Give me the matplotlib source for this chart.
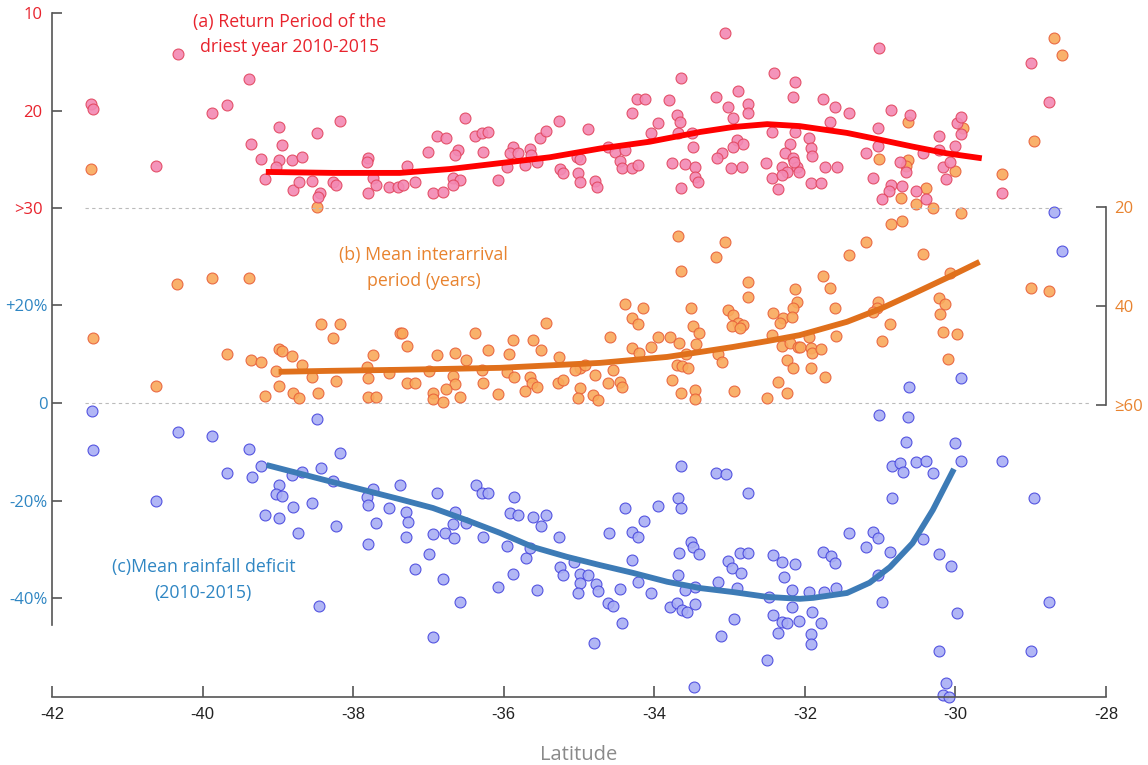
import matplotlib
matplotlib.use("Agg")
import matplotlib.pyplot as plt
import numpy as np

plt.rcParams['axes.unicode_minus'] = False

# (a) return period of the driest year 2010-2015: (latitude, years)
return_period = [
    (-41.48, 19.3), (-41.45, 19.8), (-40.33, 14.2), (-39.87, 20.3), (-39.68, 19.4), (-39.38, 16.8),
    (-40.62, 25.7), (-39.36, 23.4), (-39.22, 25.0), (-39.17, 27.0), (-38.98, 21.7), (-38.95, 23.5),
    (-38.98, 25.1), (-39.02, 25.8), (-38.81, 25.1), (-38.68, 24.8), (-38.80, 28.2), (-38.72, 27.3),
    (-38.48, 22.3), (-38.55, 27.2), (-38.44, 28.5), (-38.47, 28.9), (-38.18, 21.1), (-38.27, 27.3),
    (-38.23, 27.6), (-37.80, 24.9), (-37.82, 25.3), (-37.74, 26.9), (-37.69, 27.6), (-37.80, 28.5),
    (-37.52, 27.8), (-37.40, 27.8),
    (-33.06, 12.1), (-33.65, 16.7), (-32.41, 16.2), (-32.13, 17.1), (-32.16, 18.6), (-33.18, 18.6),
    (-32.89, 18.0), (-33.02, 19.6), (-32.96, 20.8), (-32.76, 19.3), (-32.76, 20.3), (-34.23, 18.8),
    (-34.12, 18.8), (-34.30, 20.3), (-33.81, 18.9), (-33.70, 20.5), (-33.66, 21.2), (-33.95, 21.3),
    (-34.05, 22.3), (-33.69, 22.3), (-33.50, 22.3), (-33.49, 23.7), (-32.44, 22.2), (-32.13, 22.2),
    (-32.20, 23.4), (-32.90, 23.0), (-32.82, 23.4), (-32.96, 23.7), (-33.10, 24.4), (-33.17, 24.9),
    (-32.84, 25.8), (-32.98, 25.9), (-33.77, 25.4), (-33.59, 25.5), (-33.46, 25.8), (-33.46, 26.8),
    (-33.42, 27.3), (-33.65, 27.9), (-32.52, 25.4), (-32.31, 25.8), (-32.24, 26.3), (-32.27, 24.4),
    (-32.16, 24.9), (-32.11, 25.8), (-32.44, 26.9), (-32.36, 28.1), (-32.31, 26.6), (-36.52, 20.8),
    (-36.89, 22.6), (-36.77, 22.8), (-37.00, 24.3), (-36.38, 22.6), (-36.29, 22.3), (-36.21, 22.2),
    (-36.61, 24.1), (-36.65, 24.6), (-36.28, 24.3), (-37.29, 25.7), (-37.34, 27.6), (-37.18, 27.3),
    (-36.94, 28.5), (-36.81, 28.4), (-36.67, 26.9), (-36.58, 27.1), (-36.67, 27.6), (-36.08, 27.1),
    (-35.96, 25.8), (-35.88, 23.7), (-35.92, 24.4), (-35.81, 24.4), (-35.65, 23.9), (-35.64, 24.6),
    (-35.72, 25.6), (-35.56, 25.3), (-35.52, 22.8), (-35.44, 22.1), (-35.27, 21.1), (-35.25, 26.0),
    (-35.21, 26.4), (-35.03, 24.8), (-34.99, 25.0), (-35.01, 26.4), (-34.99, 27.3), (-34.79, 27.2),
    (-34.76, 27.8), (-34.88, 21.9), (-34.62, 23.7), (-34.52, 24.3), (-34.39, 24.1), (-34.46, 25.2),
    (-34.43, 25.9), (-34.30, 25.9), (-34.22, 25.6),
    (-31.02, 13.6), (-31.76, 18.8), (-31.60, 19.6), (-31.42, 20.3), (-31.67, 21.2), (-31.95, 22.8),
    (-31.92, 23.8), (-31.91, 24.7), (-32.15, 25.3), (-32.08, 26.3), (-31.73, 25.8), (-31.57, 25.8),
    (-31.92, 27.4), (-31.79, 27.4), (-31.03, 21.8), (-31.03, 23.6), (-31.19, 24.4), (-31.10, 26.9),
    (-30.85, 19.9), (-30.61, 20.5), (-30.74, 25.3), (-30.65, 26.3), (-30.85, 27.6), (-30.88, 28.3),
    (-30.71, 27.7), (-30.53, 28.3), (-30.39, 29.1), (-30.98, 29.1), (-30.43, 24.4), (-30.22, 22.6),
    (-30.22, 24.1), (-30.17, 25.8), (-30.13, 27.0), (-30.07, 25.3), (-30.00, 23.6), (-29.98, 21.3),
    (-29.92, 20.7), (-29.93, 22.4), (-29.38, 28.5), (-28.99, 15.1), (-28.76, 19.1),
]

# (b) mean interarrival period: (latitude, years)
interarrival = [
    (-41.48, 12.3), (-38.48, 20.0),
    (-40.34, 35.6), (-39.87, 34.3), (-39.38, 34.3), (-41.46, 46.5), (-40.62, 56.2), (-39.68, 49.7),
    (-39.36, 50.9), (-39.22, 51.3), (-39.03, 53.1), (-38.99, 48.7), (-38.95, 49.1), (-38.81, 50.1),
    (-38.68, 51.9), (-38.54, 54.3), (-38.99, 56.2), (-39.17, 58.2), (-38.80, 57.6), (-38.72, 58.6),
    (-38.47, 57.6), (-38.43, 43.6), (-38.18, 43.6), (-38.27, 46.5), (-38.23, 55.2), (-37.74, 49.9),
    (-37.82, 52.3), (-37.80, 54.5), (-37.80, 58.4), (-37.69, 58.4), (-37.52, 53.5), (-37.38, 45.5),
    (-33.69, 25.9), (-33.06, 27.1), (-33.18, 30.1), (-33.65, 32.9), (-32.76, 35.2), (-32.76, 38.2),
    (-32.13, 36.6), (-32.11, 39.2), (-32.16, 40.4), (-32.42, 41.4), (-32.29, 42.4), (-32.33, 43.4),
    (-32.44, 45.9), (-32.31, 48.1), (-32.20, 47.5), (-32.09, 48.3), (-32.24, 50.9), (-32.16, 52.5),
    (-32.36, 55.4), (-32.24, 57.6), (-32.50, 58.6), (-33.02, 40.8), (-32.96, 41.8), (-32.89, 43.4),
    (-32.82, 43.8), (-32.97, 44.0), (-32.86, 44.4), (-33.15, 49.7), (-33.10, 51.3), (-32.94, 57.2),
    (-33.51, 40.4), (-33.48, 44.0), (-33.41, 45.5), (-33.45, 47.7), (-33.79, 46.3), (-33.67, 47.5),
    (-33.58, 49.7), (-33.70, 51.9), (-33.63, 52.1), (-33.55, 52.5), (-33.77, 55.0), (-33.65, 57.6),
    (-33.46, 57.0), (-33.46, 58.8), (-34.39, 39.6), (-34.15, 40.4), (-34.30, 42.4), (-34.22, 43.6),
    (-33.95, 46.3), (-34.05, 48.3), (-34.30, 48.5), (-34.20, 49.5), (-34.59, 46.3), (-34.55, 52.9),
    (-34.62, 55.6), (-34.46, 55.4), (-34.43, 56.4), (-35.44, 43.4), (-35.61, 46.9), (-35.51, 48.9),
    (-35.27, 50.3), (-35.28, 55.6), (-35.21, 54.9), (-34.99, 52.5), (-35.05, 52.9), (-34.92, 51.9),
    (-34.99, 56.6), (-34.79, 53.9), (-35.01, 58.6), (-34.82, 58.0), (-34.75, 59.0), (-35.65, 54.3),
    (-35.62, 55.6), (-35.56, 56.4), (-35.72, 57.2), (-35.88, 46.9), (-35.93, 49.7), (-35.96, 53.3),
    (-35.86, 54.3), (-36.07, 57.8), (-36.21, 48.9), (-36.38, 45.5), (-36.29, 52.9), (-36.28, 55.6),
    (-36.50, 50.9), (-36.65, 49.5), (-36.67, 54.1), (-36.65, 55.8), (-36.89, 49.9), (-36.77, 56.8),
    (-36.58, 58.4), (-36.94, 57.6), (-36.94, 58.8), (-36.81, 59.4), (-36.99, 53.1), (-37.29, 55.6),
    (-37.18, 55.6), (-37.35, 45.5), (-37.29, 48.1),
    (-30.85, 23.4), (-30.71, 22.8), (-29.93, 21.2), (-31.19, 27.1), (-31.42, 29.7), (-30.43, 29.5),
    (-30.07, 33.3), (-28.99, 36.4), (-28.76, 37.0), (-31.76, 33.9), (-31.67, 36.4), (-31.60, 40.4),
    (-31.03, 39.2), (-31.04, 40.4), (-31.10, 41.2), (-30.22, 38.4), (-30.14, 39.6), (-30.21, 41.6),
    (-30.87, 43.6), (-30.17, 45.3), (-29.98, 45.7), (-31.58, 46.1), (-31.95, 46.3), (-30.98, 47.1),
    (-32.17, 42.2), (-32.07, 48.3), (-31.92, 48.5), (-31.91, 49.5), (-31.78, 48.7), (-31.92, 52.5),
    (-31.73, 54.3), (-30.10, 50.7),
    (-28.69, -14.1), (-28.59, -10.7), (-28.95, 6.7), (-29.38, 13.3), (-30.63, 2.8), (-29.90, 4.0),
    (-31.02, 10.3), (-30.63, 10.5), (-30.00, 12.7), (-30.65, 11.7), (-30.39, 16.2), (-30.72, 18.2),
    (-30.53, 19.4), (-30.30, 20.2),
]

# (c) mean rainfall deficit 2010-2015: (latitude, percent)
deficit = [
    (-41.47, -1.6), (-41.46, -9.6), (-40.33, -5.9), (-39.87, -6.8), (-39.38, -9.4), (-38.48, -3.3),
    (-38.18, -10.2), (-40.62, -20.1), (-39.68, -14.3), (-39.35, -15.1), (-39.22, -12.9), (-39.17, -22.9),
    (-38.99, -16.8), (-39.02, -18.6), (-38.95, -19.0), (-38.99, -23.5), (-38.80, -21.3), (-38.73, -26.6),
    (-38.68, -14.1), (-38.81, -14.7), (-38.55, -20.5), (-38.43, -13.3), (-38.46, -41.6), (-38.27, -16.0),
    (-38.23, -25.2), (-37.82, -19.2), (-37.80, -20.9), (-37.74, -17.6), (-37.69, -24.6), (-37.80, -28.9),
    (-37.52, -21.5), (-37.38, -16.8),
    (-37.30, -22.3), (-37.27, -24.4), (-37.30, -27.4), (-36.89, -18.4), (-36.94, -26.8), (-36.99, -30.9),
    (-37.18, -34.0), (-36.81, -36.0), (-36.94, -47.9), (-36.58, -40.7), (-36.78, -26.6), (-36.66, -27.6),
    (-36.65, -22.3), (-36.67, -24.8), (-36.50, -24.6), (-36.37, -16.8), (-36.29, -18.4), (-36.21, -18.4),
    (-36.28, -27.4), (-36.08, -37.7), (-35.96, -29.3), (-35.92, -22.5), (-35.86, -19.2), (-35.81, -22.9),
    (-35.88, -35.0), (-35.71, -31.7), (-35.65, -29.7), (-35.61, -23.3), (-35.51, -25.2), (-35.44, -22.9),
    (-35.56, -38.3), (-35.27, -27.4), (-35.25, -33.6), (-35.21, -35.2), (-35.06, -32.5), (-34.99, -35.0),
    (-34.99, -36.8), (-35.01, -38.9), (-34.88, -35.2), (-34.78, -37.1), (-34.75, -38.5), (-34.80, -49.1),
    (-34.60, -26.6), (-34.62, -40.9), (-34.55, -41.6), (-34.46, -38.1), (-34.43, -45.0), (-34.39, -21.5),
    (-34.30, -26.4), (-34.22, -27.4), (-34.14, -24.2), (-34.30, -32.1), (-34.22, -36.6), (-34.05, -38.9),
    (-33.95, -21.1), (-33.65, -12.9), (-33.69, -19.4), (-33.65, -21.5), (-33.67, -30.7), (-33.69, -35.2),
    (-33.79, -41.8), (-33.70, -40.9), (-33.63, -42.4), (-33.57, -42.8), (-33.46, -41.1), (-33.51, -28.5),
    (-33.49, -29.5), (-33.41, -30.9), (-33.46, -37.7), (-33.59, -38.3), (-33.47, -58.1), (-33.18, -14.3),
    (-33.05, -14.5), (-32.76, -18.4), (-33.12, -47.7), (-33.15, -36.6), (-33.02, -32.3), (-32.97, -33.8),
    (-32.86, -30.7), (-32.76, -30.7), (-32.85, -34.8), (-32.90, -37.9), (-32.94, -44.2), (-32.50, -52.6),
    (-32.42, -31.1), (-32.31, -32.5), (-32.28, -35.6), (-32.17, -38.3), (-32.13, -33.0), (-32.42, -43.4),
    (-32.31, -44.8), (-32.36, -47.1), (-32.24, -45.0), (-32.47, -39.7),
    (-30.65, -8.0), (-30.00, -8.2), (-29.93, -11.9), (-29.38, -11.9), (-30.84, -12.9), (-30.73, -12.3),
    (-30.70, -14.1), (-30.53, -12.1), (-30.39, -11.9), (-30.30, -14.3), (-30.84, -19.4), (-28.95, -19.4),
    (-31.42, -26.6), (-31.10, -26.4), (-31.03, -27.6), (-31.19, -29.5), (-30.87, -30.5), (-30.43, -27.8),
    (-30.22, -30.9), (-30.06, -33.4), (-31.76, -30.5), (-31.65, -31.3), (-31.60, -32.8), (-31.95, -38.7),
    (-31.75, -38.7), (-31.58, -37.9), (-31.03, -35.2), (-30.98, -40.7), (-32.17, -41.8), (-31.91, -42.8),
    (-32.08, -44.6), (-31.79, -45.0), (-31.92, -47.3), (-31.92, -49.3), (-29.98, -43.0), (-28.76, -40.7),
    (-30.22, -50.8), (-28.99, -50.8), (-30.13, -57.3), (-30.17, -59.8), (-30.09, -60.2),
    (-28.69, 39.1), (-28.59, 31.1), (-29.92, 5.1), (-30.62, 3.3), (-31.02, -2.5), (-30.63, -2.9),
]

# smoothed trend curves
rp_fit_lat = [-39.16, -38.27, -37.38, -36.71, -36.05, -35.39, -34.72, -34.06, -33.39, -32.96,
              -32.50, -32.07, -31.44, -31.00, -30.57, -30.11, -29.65]
rp_fit = [26.3, 26.4, 26.4, 26.0, 25.4, 24.8, 23.9, 23.2, 22.2, 21.7, 21.4, 21.6, 22.3, 23.0,
          23.7, 24.4, 24.9]
ia_fit_lat = [-38.99, -38.27, -37.38, -36.05, -34.72, -33.83, -33.39, -32.96, -32.50, -32.07,
              -31.44, -31.00, -30.57, -30.11, -29.68]
ia_fit = [53.3, 53.1, 52.9, 52.5, 51.5, 50.3, 49.3, 48.3, 47.1, 45.9, 43.2, 40.6, 37.6, 34.3, 31.1]
def_fit_lat = [-39.15, -38.27, -37.38, -36.94, -36.49, -36.05, -35.61, -35.16, -34.72, -34.28,
               -33.83, -33.39, -32.96, -32.50, -32.07, -31.89, -31.44, -31.14, -30.87, -30.57,
               -30.30, -30.02]
def_fit = [-12.7, -16.2, -19.7, -21.5, -24.0, -26.6, -29.5, -31.5, -33.2, -34.8, -36.6, -37.9,
           -38.7, -39.7, -40.1, -39.9, -38.9, -36.8, -33.6, -28.7, -21.9, -13.5]

RED = '#e8232d'
ORANGE = '#e8832f'
BLUE = '#2f86c3'
SPINE = '#555555'
FONT = ['Open Sans', 'DejaVu Sans']

rp = np.array(return_period)
ia = np.array(interarrival)
dfc = np.array(deficit)

fig = plt.figure(figsize=(11.48, 7.65), dpi=100)
rect = [52 / 1148, 68 / 765, 1054 / 1148, 692 / 765]
ax = fig.add_axes(rect)          # deficit + latitude axis
ax_b = ax.twinx()                # interarrival (right)
ax_a = ax.twinx()                # return period (left, red)

ax.set_xlim(-42, -28)
ax.set_ylim(-60.2, 81.5)
ax_b.set_ylim(119.0, -20.8)
ax_a.set_ylim(80.15, 9.18)

ms = 62
ax.scatter(dfc[:, 0], dfc[:, 1], s=ms, c='#a9aef4', edgecolors='#4646de', linewidths=0.8,
           alpha=0.9, zorder=2, clip_on=False)
ax.plot(def_fit_lat, def_fit, color='#3d7bb6', lw=4.2, solid_capstyle='butt', zorder=3)

ax_b.scatter(ia[:, 0], ia[:, 1], s=ms, c='#f9a95b', edgecolors='#e8603a', linewidths=0.8,
             alpha=0.9, zorder=2, clip_on=False)
ax_b.plot(ia_fit_lat, ia_fit, color='#e0701c', lw=4.2, solid_capstyle='butt', zorder=3)

ax_a.scatter(rp[:, 0], rp[:, 1], s=ms, c='#f389b3', edgecolors='#e2455e', linewidths=0.8,
             alpha=0.9, zorder=2, clip_on=False)
ax_a.plot(rp_fit_lat, rp_fit, color='#ff0000', lw=4.2, solid_capstyle='butt', zorder=3)

# dashed separators
ax_a.hlines(30, -41.56, -28.57, colors='#bbbbbb', linestyles=(0, (3, 3)), lw=0.8, zorder=1)
ax.hlines(0, -41.56, -28.21, colors='#bbbbbb', linestyles=(0, (3, 3)), lw=0.8, zorder=1)

# spines
for a in (ax, ax_a, ax_b):
    for s in a.spines.values():
        s.set_visible(False)
ax.spines['bottom'].set_visible(True)
ax.spines['bottom'].set_bounds(-42, -28)
ax.spines['left'].set_visible(True)
ax.spines['left'].set_bounds(-45.4, 79.8)
ax_b.spines['right'].set_visible(True)
ax_b.spines['right'].set_bounds(20, 60)
for s in (ax.spines['bottom'], ax.spines['left'], ax_b.spines['right']):
    s.set_color(SPINE)
    s.set_linewidth(1.2)

# x axis
ax.set_xticks([-42, -40, -38, -36, -34, -32, -30, -28])
ax.tick_params(axis='x', direction='in', length=8, width=1.2, color=SPINE, pad=7,
               labelsize=12, labelcolor='#222222')
for lbl in ax.get_xticklabels():
    lbl.set_family(['Liberation Sans', 'DejaVu Sans'])
ax.set_xlabel('Latitude', color='#8a8a8a', fontsize=14.5, family=FONT, labelpad=17)

# blue (deficit) ticks
ax.set_yticks([20, 0, -20, -40])
ax.set_yticklabels(['+20%', '0', '-20%', '-40%'])
ax.tick_params(axis='y', direction='in', length=7, width=1.2, color=SPINE, pad=3,
               labelsize=12, labelcolor=BLUE)
for lbl in ax.get_yticklabels():
    lbl.set_family(FONT)

# red (return period) ticks
ax_a.yaxis.tick_left()
ax_a.set_yticks([10, 20, 30])
ax_a.set_yticklabels(['10', '20', '>30'])
ax_a.tick_params(axis='y', direction='in', length=7, width=1.2, color=SPINE, pad=7,
                 labelsize=12, labelcolor=RED)
for lbl in ax_a.get_yticklabels():
    lbl.set_family(FONT)

# orange (interarrival) ticks
ax_b.set_yticks([20, 40, 60])
ax_b.set_yticklabels(['20', '40', '\u226560'])
ax_b.tick_params(axis='y', direction='in', length=7, width=1.2, color=SPINE, pad=6,
                 labelsize=12, labelcolor=ORANGE)
for lbl in ax_b.get_yticklabels():
    lbl.set_family(FONT)

# panel titles
ax_a.text(-38.85, 12.2, '(a) Return Period of the\ndriest year 2010-2015', ha='center',
          va='center', color=RED, fontsize=12.8, family=FONT, linespacing=1.55)
ax_b.text(-37.06, 32.3, '(b) Mean interarrival\nperiod (years)', ha='center', va='center',
          color=ORANGE, fontsize=12.8, family=FONT, linespacing=1.55)
ax.text(-39.99, -36.3, '(c)Mean rainfall deficit\n(2010-2015)', ha='center', va='center',
        color=BLUE, fontsize=12.8, family=FONT, linespacing=1.55)

fig.savefig('out.png', dpi=100, facecolor='white')
